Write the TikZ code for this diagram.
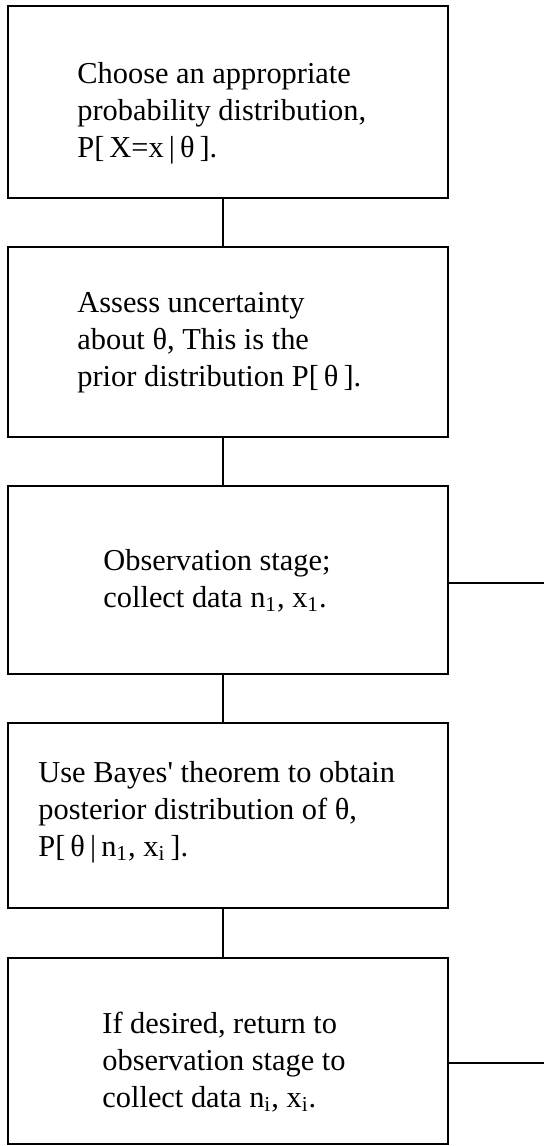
\documentclass[tikz,border=0pt]{standalone}
\usepackage{fontspec}
\setmainfont{Liberation Serif}
\usetikzlibrary{positioning}

\begin{document}
\begin{tikzpicture}[
					x=1pt, y=1pt,
					node distance=23.6pt,
					stage/.style={draw, line width=0.9pt, minimum width=220pt, inner sep=0pt},
					stagetext/.style={anchor=base west, align=left, inner sep=0pt, font=\fontsize{15.2}{18.5}\selectfont},
					link/.style={line width=0.7pt}
					]
					\useasboundingbox (0,0) rectangle (272,-573);
					\coordinate (Rim) at (272,0);
					\node[stage, minimum height=96pt, anchor=north west] (Choose) at (3.5,-2.5) {};
					\node[stage, minimum height=95pt, below=of Choose] (Prior) {};
					\node[stage, minimum height=94pt, below=of Prior] (Observe) {};
					\node[stage, minimum height=92.5pt, below=of Observe] (Bayes) {};
					\node[stage, minimum height=93pt, below=24.1pt of Bayes] (Return) {};
					\node[stagetext] (ChooseText) at ([shift={(35,-76)}]Choose.north west)
					{Choose an appropriate\\ probability distribution,\\ P[\,X=x\,|\,θ\,].};
					\node[stagetext] (PriorText) at ([shift={(35,-70)}]Prior.north west)
					{Assess uncertainty\\ about θ, This is the\\ prior distribution P[\,θ\,].};
					\node[stagetext] (ObserveText) at ([shift={(48,-61)}]Observe.north west)
					{Observation stage;\\ collect data n\textsubscript{1}, x\textsubscript{1}.};
					\node[stagetext] (BayesText) at ([shift={(15.5,-67)}]Bayes.north west)
					{Use Bayes\textquotesingle{} theorem to obtain\\ posterior distribution of θ,\\ P[\,θ\,|\,n\textsubscript{1}, x\textsubscript{i}\,].};
					\node[stagetext] (ReturnText) at ([shift={(47.5,-75)}]Return.north west)
					{If desired, return to\\ observation stage to\\ collect data n\textsubscript{i}, x\textsubscript{i}.};
					\draw[link] ([xshift=-2.5pt]Choose.south) -- ([xshift=-2.5pt]Prior.north);
					\draw[link] ([xshift=-2.5pt]Prior.south) -- ([xshift=-2.5pt]Observe.north);
					\draw[link] ([xshift=-2.5pt]Observe.south) -- ([xshift=-2.5pt]Bayes.north);
					\draw[link] ([xshift=-2.5pt]Bayes.south) -- ([xshift=-2.5pt]Return.north);
					\draw[link] ([yshift=-1.5pt]Observe.east) -- ([yshift=-1.5pt]Observe.east -| Rim);
					\draw[link] ([yshift=-6pt]Return.east) -- ([yshift=-6pt]Return.east -| Rim);
				\end{tikzpicture}
\end{document}
